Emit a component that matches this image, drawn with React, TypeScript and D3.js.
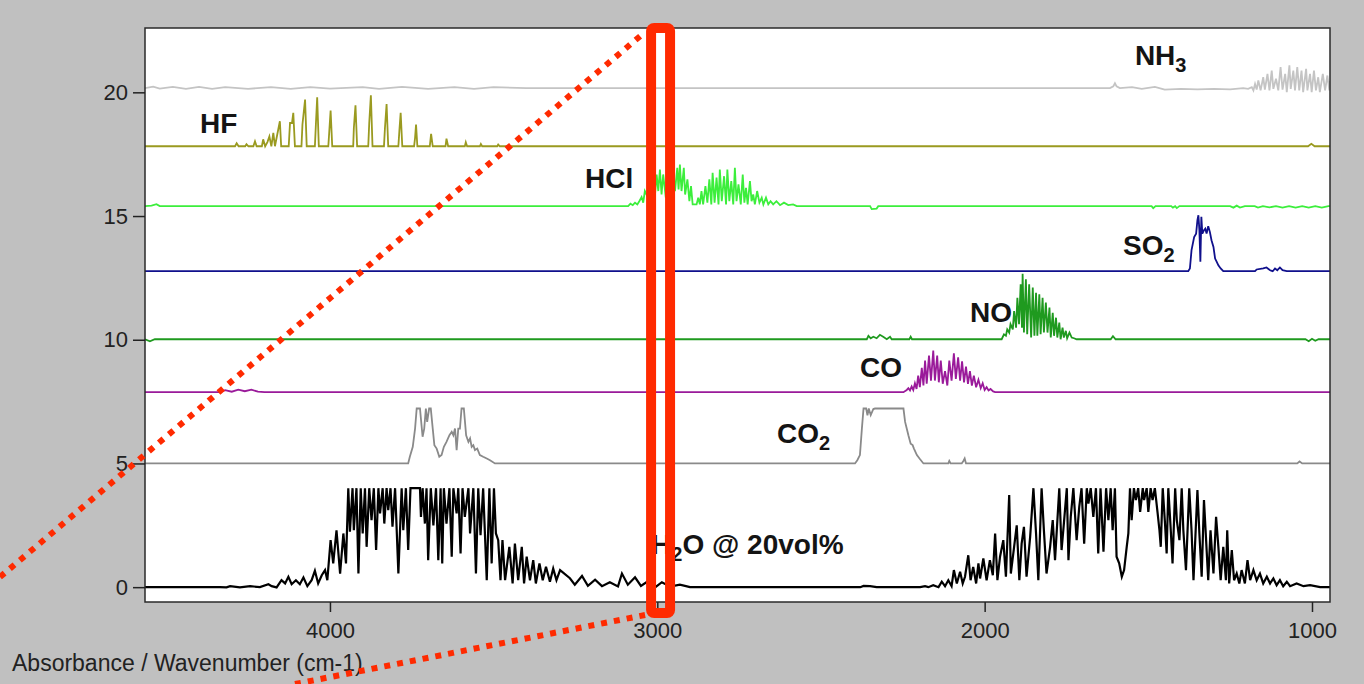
import React, { useRef, useEffect } from 'react';
import * as d3 from 'd3';

const W = 1364;
const H = 684;

// axis setup (wavenumber runs right to left)
const wnDomain = [4565, 945];
const absDomain = [-0.6, 22.6];
const xTicks = [4000, 3000, 2000, 1000];
const yTicks = [0, 5, 10, 15, 20];

const gases = ['H2O', 'CO2', 'CO', 'NO', 'SO2', 'HCl', 'HF', 'NH3'];
const offsets = [0, 5, 7.88, 10.02, 12.77, 15.4, 17.82, 20.17];
const colors = ['#000000', '#8a8a8a', '#9a1a9a', '#1f9a1f', '#10108c', '#3cee3c', '#9a9a20', '#c4c4c4'];

// [wavenumber, absorbance above own baseline]
const h2o = [
  [4565, 0], [4336, 0], [4316, -0.01], [4305, 0.04], [4275, -0.01], [4244, 0.04], [4214, 0], [4188, 0.12], [4178, 0.04],
  [4163, -0.01], [4148, 0.28], [4137, 0.15], [4127, 0.42], [4117, 0.12], [4104, 0.28], [4092, 0.12], [4081, 0.39],
  [4069, 0.04], [4056, 0.28], [4046, 0.66], [4036, 0.15], [4025, 0.48], [4015, 0.69], [4008, 0.28], [3998, 1.9],
  [3990, 0.96], [3980, 2.3], [3969, 0.55], [3959, 2.17], [3951, 0.96], [3944, 4], [3939, 2.24], [3931, 4], [3927, 2.3],
  [3919, 4], [3913, 0.55], [3906, 4], [3900, 2.17], [3893, 4], [3888, 1.63], [3880, 4], [3873, 2.71], [3866, 4],
  [3859, 1.5], [3852, 4], [3847, 2.98], [3839, 4], [3834, 2.57], [3827, 4], [3822, 3.11], [3815, 4], [3809, 2.44],
  [3801, 4], [3791, 0.55], [3781, 4], [3776, 2.3], [3768, 4], [3761, 1.5], [3754, 4], [3725, 4], [3722, 2.84],
  [3717, 4], [3710, 2.57], [3705, 4], [3700, 1.09], [3692, 4], [3684, 2.5], [3676, 4], [3669, 1.09], [3662, 4],
  [3657, 0.96], [3652, 4], [3644, 2.57], [3635, 4], [3628, 1.23], [3623, 4], [3613, 2.98], [3608, 4], [3601, 1.36],
  [3595, 4], [3588, 2.84], [3577, 4], [3572, 2.17], [3562, 4], [3554, 0.55], [3547, 4], [3540, 2.1], [3532, 4],
  [3521, 0.28], [3513, 4], [3506, 0.96], [3499, 4], [3493, 2.17], [3486, 1.9], [3479, 0.28], [3473, 1.9], [3465, 0.28],
  [3452, 1.63], [3442, 0.15], [3435, 1.76], [3425, 0.28], [3414, 1.63], [3407, 0.15], [3399, 1.23], [3389, 0.28],
  [3379, 1.09], [3371, 0.15], [3360, 0.96], [3350, 0.28], [3340, 0.82], [3328, 0.22], [3318, 0.75], [3308, 0.28],
  [3297, 0.69], [3267, 0.36], [3252, 0.1], [3230, 0.45], [3212, 0.05], [3190, 0.3], [3169, 0.04], [3145, 0.2],
  [3120, 0.03], [3108, 0.55], [3090, 0.1], [3068, 0.4], [3050, 0.05], [3022, 0.3], [3004, 0.02], [2986, 0.2],
  [2961, 0.02], [2931, 0.1], [2900, 0], [2380, 0], [2370, 0.05], [2350, 0.04], [2330, 0],
  [2197, 0], [2182, 0.04], [2172, 0], [2157, 0.08], [2141, 0], [2131, 0.22], [2121, 0.04], [2111, 0.28], [2101, 0.04],
  [2094, 0.69], [2085, 0.15], [2075, 0.62], [2067, 0.15], [2060, 0.42], [2050, 1.29], [2043, 0.28], [2035, 0.82],
  [2026, 0.15], [2019, 0.96], [2014, 0.35], [2004, 1.16], [1994, 0.28], [1984, 1.09], [1975, 0.48], [1968, 2.17],
  [1961, 0.28], [1953, 1.23], [1943, 1.9], [1935, 0.42], [1925, 3.72], [1920, 0.55], [1910, 1.63], [1902, 2.5],
  [1894, 0.28], [1887, 1.76], [1880, 2.44], [1872, 0.42], [1861, 2.03], [1851, 4], [1843, 2.17], [1836, 0.28],
  [1826, 4], [1819, 2.3], [1811, 0.55], [1800, 1.63], [1792, 2.71], [1785, 1.09], [1772, 4], [1765, 1.5], [1758, 2.57],
  [1749, 4], [1744, 1.09], [1737, 2.84], [1729, 4], [1719, 1.9], [1711, 3.25], [1704, 4], [1696, 1.76], [1688, 4],
  [1683, 3.38], [1676, 4], [1668, 2.84], [1660, 4], [1653, 1.36], [1646, 4], [1637, 1.43], [1629, 4], [1622, 2.71],
  [1615, 4], [1609, 2.3], [1602, 4], [1597, 1.23], [1589, 0.96], [1581, 0.42], [1574, 0.69], [1566, 1.63], [1561, 2.17],
  [1556, 4], [1551, 2.71], [1544, 4], [1538, 3.52], [1531, 4], [1525, 3.04], [1517, 4], [1513, 3.52], [1505, 4],
  [1500, 3.04], [1493, 4], [1487, 3.52], [1480, 4], [1472, 3.04], [1466, 2.3], [1462, 1.63], [1456, 4], [1449, 2.57],
  [1444, 1.36], [1439, 4], [1432, 2.44], [1426, 0.96], [1418, 4], [1413, 2.71], [1405, 1.9], [1398, 4], [1393, 2.3],
  [1385, 0.69], [1375, 4], [1368, 2.3], [1362, 0.28], [1350, 3.92], [1344, 2.17], [1337, 0.42], [1330, 3.52],
  [1324, 2.03], [1317, 0.28], [1310, 2.3], [1301, 0.55], [1293, 2.84], [1286, 1.63], [1279, 0.28], [1271, 1.63],
  [1263, 0.28], [1259, 2.3], [1253, 0.15], [1245, 1.5], [1238, 0.28], [1230, 0.55], [1222, 0.15], [1215, 0.69],
  [1205, 0.15], [1197, 1.09], [1189, 0.28], [1179, 0.69], [1169, 0.28], [1159, 0.55], [1149, 0.15], [1138, 0.42],
  [1128, 0.15], [1118, 0.35], [1108, 0.08], [1098, 0.28], [1088, 0.04], [1077, 0.22], [1067, 0.04], [1047, 0.15],
  [1026, 0.04], [1006, 0.08], [975, 0], [945, 0],
];

const co2 = [
  [4565, 0], [3761, 0], [3756, 0.27], [3747, 0.67], [3740, 1.41], [3735, 2.22], [3725, 2.22], [3717, 1.08], [3712, 1.41],
  [3707, 2.22], [3703, 1.68], [3697, 2.22], [3692, 2.22], [3686, 1.41], [3681, 0.74], [3674, 0.6], [3666, 0.27],
  [3659, 0.34], [3652, 0.67], [3644, 0.87], [3635, 1.14], [3628, 1.28], [3623, 1.14], [3618, 1.41], [3613, 0.54],
  [3608, 1.41], [3603, 1.41], [3598, 2.22], [3591, 2.22], [3584, 1.14], [3577, 0.87], [3572, 1.01], [3567, 0.67],
  [3562, 0.74], [3557, 0.54], [3550, 0.6], [3542, 0.34], [3532, 0.27], [3521, 0.2], [3511, 0.13], [3496, 0],
  [2396, 0], [2389, 0.13], [2381, 0.34], [2375, 1.41], [2370, 2.22], [2362, 2.22], [2358, 1.95], [2354, 2.22],
  [2348, 1.95], [2340, 2.2], [2335, 2.22], [2248, 2.22], [2243, 1.68], [2238, 1.41], [2233, 1.14], [2226, 0.8],
  [2220, 0.74], [2216, 0.6], [2207, 0.34], [2199, 0.2], [2187, 0], [2111, 0], [2108, 0.1], [2104, 0], [2070, 0],
  [2065, 0.1], [2061, 0.2], [2057, 0], [1045, 0], [1038, 0.08], [1030, 0], [945, 0],
];

const co = [
  [4565, 0], [4336, 0], [4320, 0.08], [4300, 0.02], [4280, 0.1], [4260, 0.04], [4240, 0.1], [4220, 0.02], [4200, 0],
  [2248, 0], [2238, 0.09], [2233, 0.16], [2228, 0.07], [2223, 0.23], [2218, 0.09], [2213, 0.36], [2208, 0.13],
  [2203, 0.67], [2198, 0.2], [2192, 0.98], [2187, 0.27], [2182, 1.28], [2177, 0.34], [2170, 1.48], [2164, 0.47],
  [2157, 1.68], [2152, 0.47], [2145, 1.48], [2140, 0.4], [2134, 1.28], [2128, 0.34], [2121, 0.85], [2114, 0.27],
  [2108, 1.28], [2101, 0.47], [2094, 1.57], [2088, 0.54], [2081, 1.41], [2075, 0.47], [2069, 1.25], [2063, 0.4],
  [2057, 1.03], [2051, 0.34], [2045, 0.85], [2039, 0.27], [2033, 0.67], [2026, 0.2], [2019, 0.5], [2012, 0.16],
  [2006, 0.36], [2000, 0.09], [1994, 0.2], [1988, 0.07], [1982, 0.13], [1974, 0.03], [1968, 0], [945, 0],
];

const no = [
  [4565, 0], [4550, -0.08], [4535, 0], [2360, 0], [2355, 0.14], [2348, 0.04], [2340, 0.1], [2330, 0.04], [2320, 0.18],
  [2310, 0.1], [2299, 0], [2289, 0.1], [2284, 0], [2230, 0], [2226, 0.1], [2222, 0], [1948, 0], [1941, 0.2],
  [1935, 0.14], [1931, 0.4], [1925, 0.27], [1921, 0.61], [1914, 0.4], [1910, 1.14], [1904, 0.47], [1900, 1.68],
  [1895, 0.61], [1890, 2.22], [1886, 0.47], [1884, 2.65], [1880, 0.27], [1874, 2.42], [1870, 0.2], [1864, 2.22],
  [1858, 0.07], [1853, 2.09], [1848, 0.14], [1843, 1.88], [1839, 0.14], [1833, 1.82], [1829, 0.2], [1823, 1.68],
  [1819, 0.27], [1813, 1.48], [1808, 0.27], [1802, 1.28], [1798, 0.07], [1792, 1.07], [1788, 0.14], [1782, 0.87],
  [1778, 0.07], [1772, 0.67], [1768, 0], [1762, 0.47], [1758, 0.07], [1752, 0.34], [1748, 0.04], [1741, 0.27],
  [1734, 0.07], [1727, 0.04], [1719, 0], [1615, 0], [1608, 0.12], [1600, 0], [1020, 0], [1010, -0.08], [1000, 0.02],
  [990, -0.06], [980, 0], [945, 0],
];

const so2 = [
  [4565, 0], [1378, 0], [1373, 0.11], [1368, 0.85], [1360, 1.38], [1354, 1.52], [1350, 2.06], [1347, 2.26],
  [1344, 1.66], [1341, 0.38], [1338, 2.2], [1335, 1.52], [1330, 1.66], [1326, 1.72], [1322, 1.52], [1317, 1.82],
  [1312, 1.59], [1307, 1.25], [1301, 0.98], [1296, 0.51], [1291, 0.38], [1286, 0.24], [1279, 0.11], [1271, 0],
  [1174, 0], [1169, 0.07], [1149, 0.11], [1139, 0.15], [1128, 0.04], [1120, 0], [1113, 0.11], [1106, 0.04],
  [1098, 0.15], [1090, 0.04], [1077, 0], [945, 0],
];

const hcl = [
  [4565, 0], [4545, 0.02], [4530, 0.08], [4520, 0], [3089, 0], [3082, 0.1], [3075, 0.04], [3068, 0.14], [3061, 0.07],
  [3055, 0.2], [3048, 0.37], [3043, 0.14], [3038, 0.61], [3028, 0.34], [3017, 0.88], [3007, 0.47], [3002, 1.28],
  [2997, 0.61], [2992, 1.48], [2987, 0.47], [2982, 1.28], [2974, 0.34], [2966, 1.01], [2956, 0.61], [2951, 1.35],
  [2946, 0.61], [2939, 1.55], [2935, 0.67], [2931, 1.68], [2926, 0.61], [2919, 1.55], [2915, 0.47], [2908, 1.08],
  [2902, 0.2], [2897, 0.81], [2892, 0.07], [2880, 0.07], [2875, 0.34], [2870, 0.07], [2865, 0.61], [2860, 0.07],
  [2853, 0.81], [2847, 0.14], [2841, 1.08], [2835, 0.07], [2831, 1.35], [2825, 0.14], [2819, 1.15], [2813, 0.07],
  [2809, 1.48], [2803, 0.2], [2796, 1.21], [2790, 0.07], [2786, 1.48], [2780, 0.2], [2774, 1.01], [2768, 0.07],
  [2763, 1.55], [2758, 0.2], [2752, 0.88], [2745, 0.07], [2739, 1.28], [2734, 0.14], [2729, 0.74], [2724, 0.07],
  [2717, 1.01], [2712, 0.2], [2707, 0.47], [2702, 0.07], [2695, 0.61], [2688, 0.14], [2681, 0.34], [2676, 0.07],
  [2668, 0.34], [2661, 0.07], [2654, 0.2], [2646, 0.07], [2636, 0.2], [2625, 0.04], [2613, 0.14], [2600, 0.04],
  [2585, 0.07], [2574, 0], [2350, 0], [2345, -0.12], [2330, -0.1], [2325, 0], [1490, 0], [1485, -0.08], [1478, 0],
  [1430, 0], [1425, -0.06], [1418, 0], [1413, -0.08], [1405, 0], [1250, 0], [1240, -0.06], [1230, 0.02],
  [1220, -0.06], [1205, 0], [1175, 0], [1165, -0.06], [1150, 0], [1130, -0.05], [1110, 0], [1090, -0.06], [1070, 0],
  [1050, -0.06], [1030, 0], [1010, -0.06], [990, 0], [970, -0.06], [950, 0], [945, 0],
];

const hf = [
  [4565, 0], [4290, 0], [4285, 0.12], [4279, 0], [4259, 0], [4255, 0.08], [4249, 0], [4234, 0], [4229, 0.2], [4224, 0],
  [4208, 0], [4204, 0.28], [4198, 0], [4191, 0.17], [4185, 0.4], [4179, 0], [4173, 0.54], [4168, 0], [4153, 1.01],
  [4149, 0], [4126, 0], [4122, 0.94], [4116, 0.94], [4112, 1.35], [4107, 0], [4087, 0], [4084, 0.88], [4076, 1.89],
  [4071, 0], [4046, 0], [4043, 0.88], [4039, 1.98], [4034, 0], [4005, 0], [4002, 0.61], [3998, 1.44], [3993, 0],
  [3929, 0], [3927, 0.74], [3922, 1.66], [3917, 0], [3883, 0], [3880, 0.94], [3875, 2.06], [3870, 0], [3835, 0],
  [3832, 0.74], [3827, 1.71], [3822, 0], [3791, 0], [3788, 0.61], [3784, 1.35], [3779, 0], [3743, 0], [3740, 0.34],
  [3737, 0.88], [3733, 0], [3695, 0], [3691, 0.5], [3686, 0], [3647, 0], [3644, 0.31], [3639, 0], [3588, 0],
  [3585, 0.16], [3581, 0], [3542, 0], [3539, 0.09], [3535, 0], [3489, 0], [3486, 0.07], [3481, 0], [1012, 0],
  [1002, 0.1], [992, 0], [945, 0],
];

const nh3 = [
  [4565, 0], [4540, 0.06], [4520, -0.02], [4480, 0.05], [4440, -0.03], [4400, 0.05], [4360, -0.03], [4320, 0.04],
  [4250, -0.03], [4180, 0.04], [4120, -0.03], [4060, 0.04], [4000, -0.02], [3900, 0.04], [3850, -0.03], [3780, 0.05],
  [3700, -0.03], [3620, 0.04], [3560, -0.03], [3500, 0.04], [3400, 0], [1617, 0], [1607, 0.07], [1602, 0.2],
  [1597, 0.07], [1587, 0], [1550, 0.04], [1520, -0.03], [1480, 0.05], [1450, -0.06], [1400, -0.03], [1350, -0.05],
  [1300, -0.03], [1250, -0.05], [1210, 0], [1195, -0.03], [1184, 0.04], [1179, -0.09], [1174, 0.17], [1169, -0.06],
  [1164, 0.31], [1157, -0.09], [1149, 0.44], [1144, -0.06], [1136, 0.58], [1130, -0.09], [1123, 0.71], [1118, -0.03],
  [1110, 0.38], [1103, -0.09], [1096, 0.85], [1090, -0.06], [1082, 0.58], [1077, -0.16], [1069, 0.92], [1065, -0.03],
  [1057, 0.71], [1052, -0.09], [1045, 0.85], [1039, -0.09], [1032, 0.71], [1027, -0.16], [1018, 0.78], [1014, -0.09],
  [1006, 0.58], [1001, -0.16], [994, 0.71], [988, -0.09], [981, 0.44], [976, -0.16], [967, 0.58], [960, -0.09],
  [953, 0.51], [947, -0.09], [945, 0.3],
];

const spectra = [h2o, co2, co, no, so2, hcl, hf, nh3];

// label text: [main, subscript, rest]
const labelText = [
  ['H', '2', 'O @ 20vol%'], ['CO', '2', ''], ['CO', '', ''], ['NO', '', ''],
  ['SO', '2', ''], ['HCl', '', ''], ['HF', '', ''], ['NH', '3', ''],
];
// label anchor in data units [wavenumber, absorbance]
const labelAt = [
  [3019, 1.34], [2634, 5.83], [2381, 8.49], [2045, 10.72],
  [1577, 13.43], [3221, 16.13], [4397, 18.36], [1541, 21.1],
];

const font = "'Liberation Sans', Arial, sans-serif";

function App() {
  const ref = useRef(null);

  useEffect(() => {
    const svg = d3.select(ref.current);
    svg.selectAll('*').remove();

    const left = 145, top = 28, right = 1330, bottom = 602;
    const x = d3.scaleLinear().domain(wnDomain).range([left, right]);
    const y = d3.scaleLinear().domain(absDomain).range([bottom, top]);

    svg.append('rect').attr('width', W).attr('height', H).attr('fill', '#c0c0c0');
    svg.append('rect').attr('x', left).attr('y', top).attr('width', right - left).attr('height', bottom - top)
      .attr('fill', '#fff');

    svg.append('clipPath').attr('id', 'plotclip').append('rect')
      .attr('x', left).attr('y', top).attr('width', right - left).attr('height', bottom - top);

    const plot = svg.append('g').attr('clip-path', 'url(#plotclip)');
    // top trace first, lower traces painted over it
    spectra.map((pts, i) => i).reverse().forEach(i => {
      const line = d3.line().x(d => x(d[0])).y(d => y(d[1] + offsets[i]));
      plot.append('path')
        .attr('d', line(spectra[i]))
        .attr('fill', 'none')
        .attr('stroke', colors[i])
        .attr('stroke-width', i === 0 ? 2.2 : 1.8)
        .attr('stroke-linejoin', 'miter')
        .attr('class', gases[i]);
    });

    svg.append('rect').attr('x', left).attr('y', top).attr('width', right - left).attr('height', bottom - top)
      .attr('fill', 'none').attr('stroke', '#2a2a2a').attr('stroke-width', 1.5);

    const xAxis = svg.append('g').attr('transform', `translate(0,${bottom})`)
      .call(d3.axisBottom(x).tickValues(xTicks).tickSize(10).tickPadding(10).tickFormat(d3.format('d')));
    const yAxis = svg.append('g').attr('transform', `translate(${left},0)`)
      .call(d3.axisLeft(y).tickValues(yTicks).tickSize(12).tickPadding(5));
    [xAxis, yAxis].forEach(a => {
      a.select('.domain').remove();
      a.selectAll('line').attr('stroke', '#222').attr('stroke-width', 1.5);
      a.selectAll('text').attr('font-size', 22).attr('font-family', font).attr('fill', '#222');
    });

    svg.append('text').attr('x', 12).attr('y', 671)
      .attr('font-family', font).attr('font-size', 23).attr('fill', '#222')
      .text('Absorbance / Wavenumber (cm-1)');

    labelText.forEach((parts, i) => {
      const t = svg.append('text')
        .attr('x', x(labelAt[i][0])).attr('y', y(labelAt[i][1]))
        .attr('font-family', font).attr('font-size', 28).attr('font-weight', 'bold').attr('fill', '#141414');
      t.append('tspan').text(parts[0]);
      if (parts[1]) t.append('tspan').attr('font-size', 20).attr('dy', 7).text(parts[1]);
      if (parts[2]) t.append('tspan').attr('dy', parts[1] ? -7 : 0).text(parts[2]);
    });

    // red highlight around 3000 cm-1
    const red = '#ff2a00';
    svg.append('rect')
      .attr('x', x(3019)).attr('y', top).attr('width', x(2961) - x(3019)).attr('height', bottom - top + 11)
      .attr('rx', 3).attr('fill', 'none').attr('stroke', red).attr('stroke-width', 10);
    svg.append('line').attr('x1', 0).attr('y1', 577).attr('x2', x(3019) - 6).attr('y2', top + 4)
      .attr('stroke', red).attr('stroke-width', 6).attr('stroke-dasharray', '6 7');
    svg.append('line').attr('x1', 295).attr('y1', 684).attr('x2', x(3019) - 6).attr('y2', bottom + 13)
      .attr('stroke', red).attr('stroke-width', 6).attr('stroke-dasharray', '6 7');
  }, []);

  return (
    <svg ref={ref} width={W} height={H} style={{ position: 'absolute', left: 0, top: 0 }}></svg>
  );
}

export default App;
